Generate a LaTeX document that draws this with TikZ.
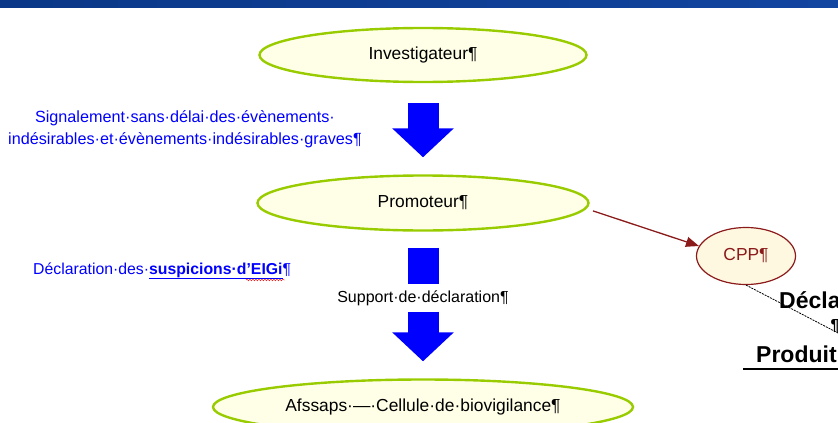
\documentclass[tikz,border=0pt]{standalone}
\usepackage{fontspec}
\setmainfont{Liberation Sans}
\usetikzlibrary{arrows.meta,positioning,calc,shapes.geometric,decorations.pathmorphing}
\definecolor{fbar}{HTML}{0A3787}
\definecolor{fbarlight}{HTML}{1245A0}
\definecolor{fblue}{HTML}{0000FF}
\definecolor{fgreen}{HTML}{99CC00}
\definecolor{fcream}{HTML}{FFFFE8}
\definecolor{fred}{HTML}{8B1A1A}
\definecolor{fpale}{HTML}{FFF8E0}

\begin{document}
\begin{tikzpicture}[x=1pt, y=-1pt, font=\fontsize{16}{22}\selectfont,
  actor/.style={ellipse, draw=fgreen, line width=2.4pt, fill=fcream, inner sep=0pt,
                font=\fontsize{17.4}{21}\selectfont},
  bigarrow/.style={fblue, line width=31pt, -{Triangle[width=60pt,length=29pt]}},
  note/.style={text=fblue, align=center, inner sep=0pt},
  margintext/.style={font=\fontsize{23}{27}\selectfont\bfseries, anchor=base west, inner sep=0pt}]
\useasboundingbox (0,0) rectangle (838,423);
\clip (0,0) rectangle (838,423);
% ---------- title bar ----------
\shade[left color=fbar, right color=fbarlight] (0,0) rectangle (838,7);
% ---------- actors ----------
\node[actor, minimum width=327pt, minimum height=54pt] (inv) at (423,55) {Investigateur¶};
\node[actor, minimum width=331pt, minimum height=55pt] (pro) at (423,203) {Promoteur¶};
\node[actor, minimum width=420pt, minimum height=55pt] (afs) at (423,407) {Afssaps·—·Cellule·de·biovigilance¶};
\node[actor, draw=fred, line width=1.2pt, fill=fpale, text=fred,
      minimum width=99pt, minimum height=57pt] (cpp) at (746,256) {CPP¶};
% ---------- flows ----------
\node[note, font=\fontsize{16.2}{22}\selectfont] (signal) at (185,129)
   {Signalement·sans·délai·des·évènements·\\indésirables·et·évènements·indésirables·graves¶};
\draw[bigarrow, shorten <=20pt, shorten >=17pt] (inv.south) -- (pro.north);
\node[note, anchor=base west, font=\fontsize{15.8}{22}\selectfont] (decl) at (33,274)
   {Déclaration·des·\textbf{\underline{suspicions·d’EIGi}}¶};
\draw[red, decorate, decoration={snake, amplitude=0.8pt, segment length=3pt}] (246,280) -- (285,280);
\node[inner sep=0pt, minimum height=27pt] (sup) at (423,298) {Support·de·déclaration¶};
\draw[fblue, line width=31pt, shorten <=16pt] (pro.south) -- (sup.north);
\draw[bigarrow, shorten >=17pt] (sup.south) -- (afs.north);
\draw[fred, line width=1.3pt, shorten <=7pt, -{Triangle[length=13pt,width=10pt]}] (pro.-2) -- (cpp.168);
% ---------- right margin ----------
\node[margintext] (decla) at (779,308) {Décla};
\node[font=\fontsize{16}{20}\selectfont\bfseries, inner sep=0pt] (para) at (835,326) {¶};
\node[margintext] (produit) at (756,362) {Produit};
\coordinate (declend) at (840,334);
\draw[dash pattern=on 2pt off 1pt, line width=0.8pt] (cpp.south) -- (declend);
\coordinate (rulea) at (743,369);
\coordinate (ruleb) at (838,369);
\draw[line width=1.2pt] (rulea) -- (ruleb);
\end{tikzpicture}
\end{document}
